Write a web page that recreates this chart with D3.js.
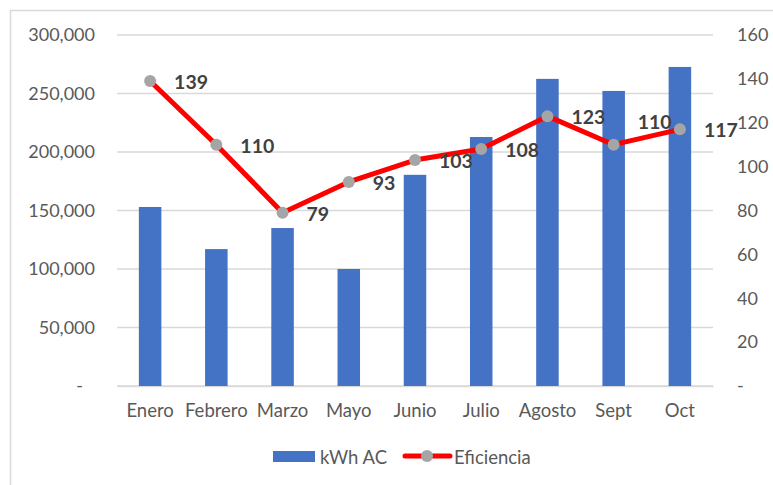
<!DOCTYPE html>
<html>
<head>
<meta charset="utf-8">
<script src="https://cdn.jsdelivr.net/npm/d3@7"></script>
<style>
  html, body { margin: 0; padding: 0; background: #fff; }
  svg { display: block; font-family: Lato, "Liberation Sans", sans-serif; }
</style>
</head>
<body>
<svg id="chart" width="773" height="485"></svg>
<script>
// Monthly energy output (bars, left axis) and efficiency (line, right axis)
const months = ["Enero", "Febrero", "Marzo", "Mayo", "Junio", "Julio", "Agosto", "Sept", "Oct"];
const kwhAC = [153000, 117000, 135000, 100000, 180500, 212800, 262500, 252200, 272700];
const eficiencia = [139, 110, 79, 93, 103, 108, 123, 110, 117];
const leftTicks = [0, 50000, 100000, 150000, 200000, 250000, 300000];
const rightTicks = [0, 20, 40, 60, 80, 100, 120, 140, 160];
const seriesNames = ["kWh AC", "Eficiencia"];

const svg = d3.select("#chart");
const plot = { left: 117, right: 713, top: 35, bottom: 386 };
const font = "Lato, 'Liberation Sans', sans-serif";

// chart frame
svg.append("rect")
  .attr("x", 10.5).attr("y", 10.5)
  .attr("width", 800).attr("height", 500)
  .attr("fill", "none").attr("stroke", "#d9d9d9").attr("stroke-width", 1.5);

const x = d3.scaleBand().domain(months).range([plot.left, plot.right])
  .paddingInner(0.66).paddingOuter(0.33);
const yL = d3.scaleLinear().domain([0, 300000]).range([plot.bottom, plot.top]);
const yR = d3.scaleLinear().domain([0, 160]).range([plot.bottom, plot.top]);

const fmtL = d => d === 0 ? "-" : d3.format(",")(d);
const fmtR = d => d === 0 ? "-" : String(d);

// gridlines
svg.append("g").selectAll("line").data(leftTicks).join("line")
  .attr("x1", plot.left).attr("x2", plot.right)
  .attr("y1", d => yL(d)).attr("y2", d => yL(d))
  .attr("stroke", "#d9d9d9").attr("stroke-width", 1.5);

// left axis
const gL = svg.append("g").attr("transform", `translate(${plot.left - 22},0)`)
  .call(d3.axisLeft(yL).tickValues(leftTicks).tickFormat(fmtL).tickSize(0).tickPadding(0));
gL.select(".domain").remove();
gL.selectAll("text").attr("fill", "#595959").style("font-size", "18px").attr("font-family", font);
gL.selectAll(".tick").filter(d => d === 0).select("text").attr("dx", "-12");

// right axis
const gR = svg.append("g").attr("transform", `translate(${plot.right + 24},0)`)
  .call(d3.axisRight(yR).tickValues(rightTicks).tickFormat(fmtR).tickSize(0).tickPadding(0));
gR.select(".domain").remove();
gR.selectAll("text").attr("fill", "#595959").style("font-size", "18px").attr("font-family", font);

// bottom axis (category labels)
const gB = svg.append("g").attr("transform", `translate(0,${plot.bottom})`)
  .call(d3.axisBottom(x).tickSize(0).tickPadding(18));
gB.select(".domain").attr("stroke", "#d9d9d9").attr("stroke-width", 1.5);
gB.selectAll("text").attr("fill", "#595959").style("font-size", "18.5px").attr("font-family", font);

// bars
svg.append("g").selectAll("rect").data(months).join("rect")
  .attr("x", d => x(d))
  .attr("y", (d, i) => yL(kwhAC[i]))
  .attr("width", x.bandwidth())
  .attr("height", (d, i) => yL(0) - yL(kwhAC[i]))
  .attr("fill", "#4472c4");

// efficiency line
const cx = d => x(d) + x.bandwidth() / 2;
const line = d3.line().x(d => cx(d)).y((d, i) => yR(eficiencia[i]));
svg.append("path").datum(months)
  .attr("d", line)
  .attr("fill", "none").attr("stroke", "#ff0000").attr("stroke-width", 5)
  .attr("stroke-linejoin", "round");

svg.append("g").selectAll("circle").data(months).join("circle")
  .attr("cx", d => cx(d)).attr("cy", (d, i) => yR(eficiencia[i]))
  .attr("r", 6).attr("fill", "#a5a5a5");

// value labels, placed right of each point (Sept raised clear of the line)
svg.append("g").selectAll("text").data(months).join("text")
  .attr("x", d => cx(d) + 24)
  .attr("y", (d, i) => yR(eficiencia[i]) + (d === "Sept" ? -23 : 1))
  .attr("dy", "0.36em")
  .attr("fill", "#404040").style("font-size", "19.5px").style("font-weight", "bold")
  .text((d, i) => eficiencia[i]);

// legend
const lg = svg.append("g");
lg.append("rect").attr("x", 273).attr("y", 451).attr("width", 42).attr("height", 11).attr("fill", "#4472c4");
lg.append("text").attr("x", 320).attr("y", 457).attr("dy", "0.36em")
  .attr("fill", "#595959").style("font-size", "18.5px").text(seriesNames[0]);
lg.append("line").attr("x1", 405).attr("x2", 450).attr("y1", 456).attr("y2", 456)
  .attr("stroke", "#ff0000").attr("stroke-width", 5).attr("stroke-linecap", "round");
lg.append("circle").attr("cx", 427).attr("cy", 456).attr("r", 6).attr("fill", "#a5a5a5");
lg.append("text").attr("x", 454).attr("y", 457).attr("dy", "0.36em")
  .attr("fill", "#595959").style("font-size", "18.5px").text(seriesNames[1]);
</script>
</body>
</html>
